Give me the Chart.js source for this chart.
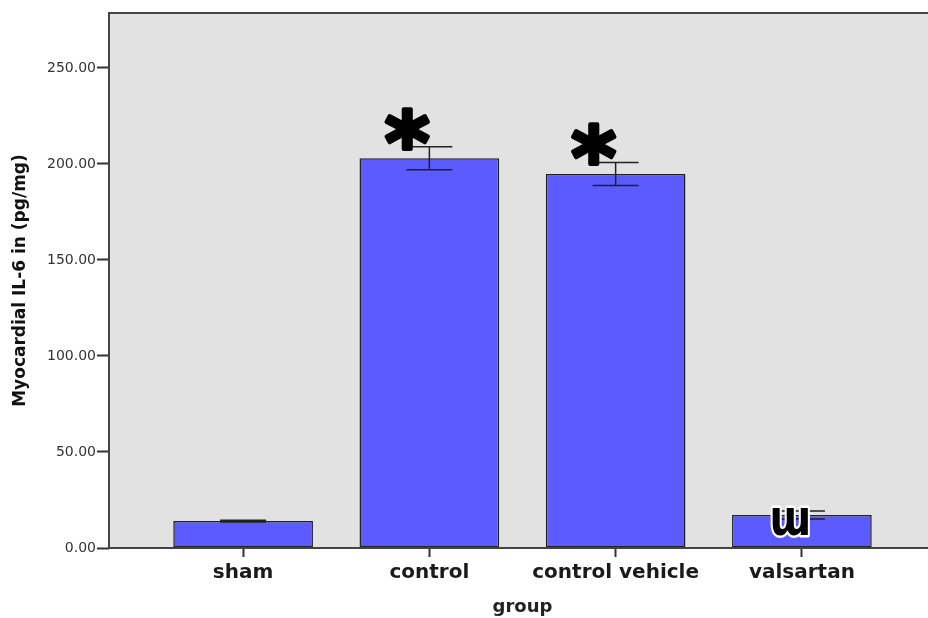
<!DOCTYPE html>
<html>
<head>
<meta charset="utf-8">
<script src="https://cdn.jsdelivr.net/npm/chart.js@4/dist/chart.umd.min.js"></script>
<style>
  html, body { margin: 0; padding: 0; background: #fff; overflow: hidden; }
  #wrap { width: 940px; height: 618px; }
</style>
</head>
<body>
<div id="wrap"><canvas id="bars" width="940" height="618"></canvas></div>
<script>
var groups = ['sham', 'control', 'control vehicle', 'valsartan'];
var il6Mean = [14.0, 203.0, 194.8, 17.2];
var il6Err = [0.4, 6.0, 6.0, 2.1];
var marks = ['', '*', '*', '\u026F'];
var yTicks = [0, 50, 100, 150, 200, 250];

var FONT = '"DejaVu Sans", "Liberation Sans", Arial';

// plot background, frame, error bars + significance marks
var extras = {
    id: 'extras',
    beforeDraw: function(chart) {
        var a = chart.chartArea, ctx = chart.ctx;
        ctx.save();
        ctx.fillStyle = '#e2e2e2';
        ctx.fillRect(a.left, a.top, a.right - a.left, a.bottom - a.top);
        ctx.restore();
    },
    afterDatasetsDraw: function(chart) {
        var ctx = chart.ctx;
        var xs = chart.scales.x, ys = chart.scales.y;
        var a = chart.chartArea;
        ctx.save();
        ctx.strokeStyle = '#444';
        ctx.lineWidth = 2;
        ctx.beginPath();
        ctx.moveTo(a.left, a.bottom);
        ctx.lineTo(a.left, a.top);
        ctx.lineTo(a.right, a.top);
        ctx.stroke();
        ctx.beginPath();
        ctx.moveTo(a.left, a.bottom);
        ctx.lineTo(a.right, a.bottom);
        ctx.stroke();

        ctx.strokeStyle = '#222';
        ctx.lineWidth = 1.5;
        for (var i = 0; i < groups.length; i++) {
            var x = xs.getPixelForValue(i);
            var hi = ys.getPixelForValue(il6Mean[i] + il6Err[i]);
            var lo = ys.getPixelForValue(il6Mean[i] - il6Err[i]);
            ctx.beginPath();
            ctx.moveTo(x, hi); ctx.lineTo(x, lo);
            ctx.moveTo(x - 23, hi); ctx.lineTo(x + 23, hi);
            ctx.moveTo(x - 23, lo); ctx.lineTo(x + 23, lo);
            ctx.stroke();
        }

        for (var j = 0; j < groups.length; j++) {
            if (!marks[j]) continue;
            var cx = xs.getPixelForValue(j);
            var top = ys.getPixelForValue(il6Mean[j] + il6Err[j]);
            var tx, ty;
            if (marks[j] === '*') {
                ctx.font = 'bold 86px "DejaVu Sans"';
                tx = cx - 22; ty = top - 18;
            } else {
                ctx.font = 'bold 50px "DejaVu Sans"';
                tx = cx - 12; ty = top + 11;
            }
            var m = ctx.measureText(marks[j]);
            var gx = tx - (m.actualBoundingBoxRight - m.actualBoundingBoxLeft) / 2;
            var gy = ty + (m.actualBoundingBoxAscent - m.actualBoundingBoxDescent) / 2;
            ctx.textAlign = 'left';
            ctx.textBaseline = 'alphabetic';
            ctx.lineJoin = 'round';
            if (marks[j] !== '*') {
                ctx.save();
                ctx.translate(tx, gy);
                ctx.scale(0.8, 1);
                ctx.translate(-(m.actualBoundingBoxRight - m.actualBoundingBoxLeft) / 2, 0);
                ctx.strokeStyle = '#fff';
                ctx.lineWidth = 5;
                ctx.strokeText(marks[j], 0, 0);
                ctx.fillStyle = '#000';
                ctx.fillText(marks[j], 0, 0);
                ctx.restore();
            } else {
                ctx.strokeStyle = '#000';
                ctx.lineWidth = 4;
                ctx.strokeText(marks[j], gx, gy);
                ctx.fillStyle = '#000';
                ctx.fillText(marks[j], gx, gy);
            }
        }
        ctx.restore();
    }
};

var ctx = document.getElementById('bars');
var chart = new Chart(ctx, {
    type: 'bar',
    data: {
        datasets: [{
            data: il6Mean.map(function(v, i) { return { x: i, y: v }; }),
            backgroundColor: '#5b5bff',
            borderColor: '#222',
            borderWidth: 1.5,
            borderSkipped: false,
            barPercentage: 0.75,
            categoryPercentage: 1.0
        }]
    },
    options: {
        responsive: false,
        animation: false,
        layout: { padding: { top: 13, right: 4, left: 0, bottom: 0 } },
        plugins: { legend: { display: false }, tooltip: { enabled: false } },
        scales: {
            x: {
                type: 'linear',
                min: -0.72,
                max: 3.72,
                offset: false,
                afterBuildTicks: function(scale) {
                    scale.ticks = groups.map(function(g, i) { return { value: i }; });
                },
                afterFit: function(scale) { scale.height = 70; },
                border: { display: false },
                grid: { offset: false, drawOnChartArea: false, tickLength: 9, tickColor: '#333', tickWidth: 2 },
                ticks: {
                    autoSkip: false,
                    maxRotation: 0,
                    padding: 4,
                    color: '#1a1a1a',
                    font: { family: FONT, size: 20, weight: 'bold' },
                    callback: function(v) { return groups[v]; }
                },
                title: {
                    display: true,
                    text: 'group',
                    color: '#222',
                    padding: { top: 9, bottom: 0 },
                    font: { family: FONT, size: 18, weight: 'bold' }
                }
            },
            y: {
                min: 0,
                max: 278.6,
                afterBuildTicks: function(scale) {
                    scale.ticks = yTicks.map(function(v) { return { value: v }; });
                },
                afterFit: function(scale) { scale.width = 109; },
                border: { display: false },
                grid: { drawOnChartArea: false, tickLength: 12, tickColor: '#333', tickWidth: 2 },
                ticks: {
                    padding: 1,
                    color: '#333',
                    font: { family: FONT, size: 14 },
                    callback: function(v) { return v.toFixed(2); }
                },
                title: {
                    display: true,
                    text: 'Myocardial IL-6 in (pg/mg)',
                    color: '#111',
                    padding: { top: 10, bottom: 0 },
                    font: { family: FONT, size: 17, weight: 'bold' }
                }
            }
        }
    },
    plugins: [extras]
});
</script>
</body>
</html>
